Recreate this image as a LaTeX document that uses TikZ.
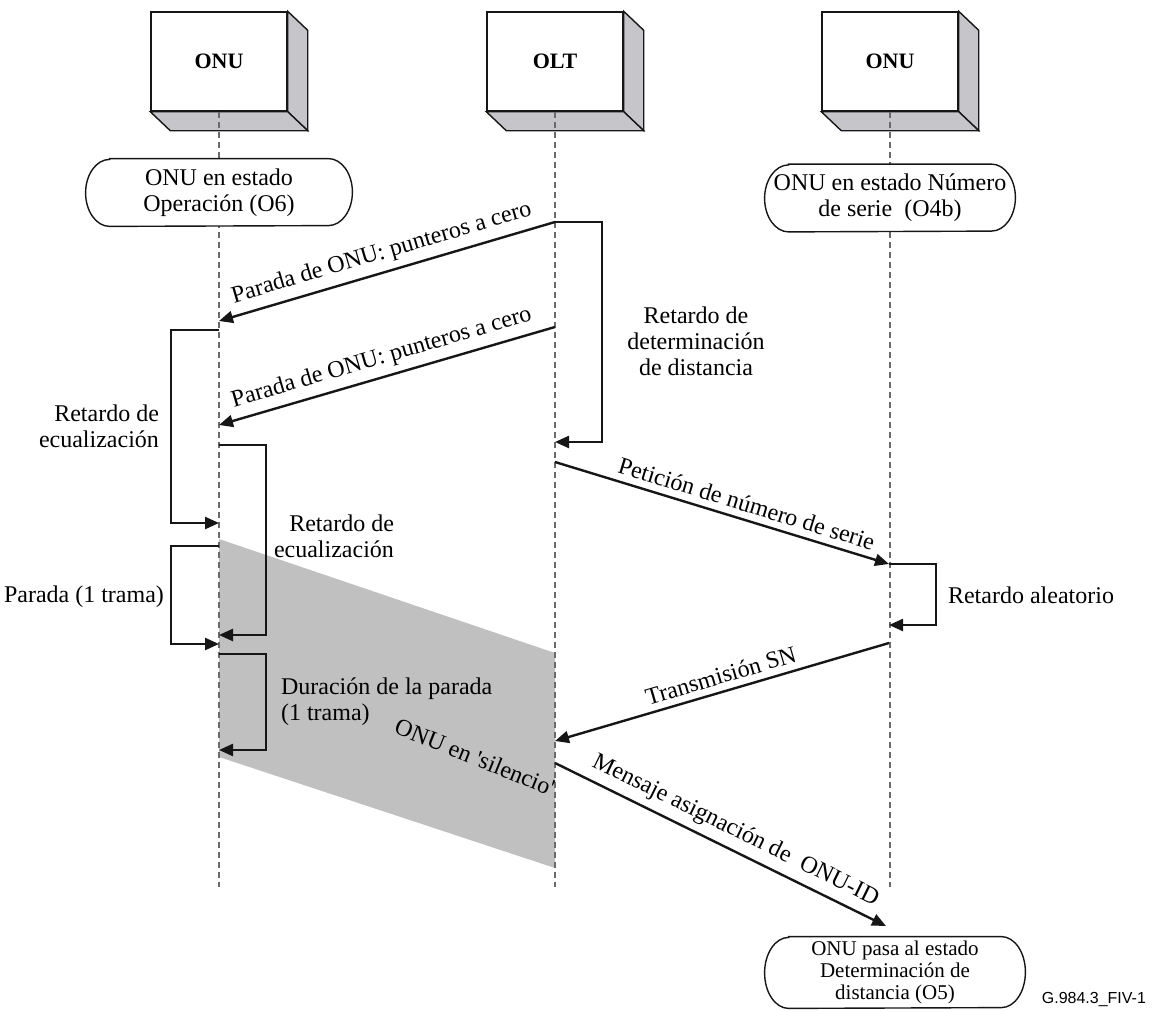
\documentclass[tikz,border=0pt]{standalone}
\usepackage{fontspec}
\setmainfont{Liberation Serif}
\newfontfamily\tagfont{Liberation Sans}
\usetikzlibrary{arrows.meta,positioning,calc}
\definecolor{seqInk}{HTML}{161616}
\definecolor{seqFace}{HTML}{C6C6CA}
\definecolor{seqQuiet}{HTML}{C0C0C0}
\definecolor{seqDash}{HTML}{6A6A6A}
\newcommand\pillframe[2]{%
  \draw[draw=seqInk,line width=0.7pt] ($(#1.north west)+(12pt,0)$) -- ($(#1.north east)+(-12pt,0)$)
    arc[start angle=90,end angle=-90,x radius=12pt,y radius=#2]
    -- ($(#1.south west)+(12pt,0)$)
    arc[start angle=-90,end angle=-270,x radius=12pt,y radius=#2] -- cycle;}

\begin{document}
\begin{tikzpicture}[x=0.5pt,y=-0.5pt,font=\fontsize{12}{13}\selectfont,>={Triangle[length=7pt,width=6pt]},
    msg/.style={->,draw=seqInk,line width=1.2pt},
    lbl/.style={sloped,above,pos=#1},lbl/.default=0.5,
    lifeline/.style={draw=seqDash,line width=0.6pt,dash pattern=on 3pt off 2pt},
    unit/.style={draw=seqInk,fill=white,line width=0.7pt,minimum width=68pt,minimum height=49.5pt,
                 font=\fontsize{11}{13}\selectfont\bfseries},
    state/.style={fill=white,rounded corners=12pt,align=center,inner sep=0pt}]
  \useasboundingbox (0,0) rectangle (1157,1012);

  \fill[seqQuiet] (219,539) -- (555,653) -- (555,868) -- (219,757) -- cycle;

  \foreach \nm/\xx/\txt in {onuL/219/ONU,olt/555/OLT,onuR/890/ONU}{
    \node[unit] (\nm) at (\xx,61.5) {\txt};
    \filldraw[fill=seqFace,draw=seqInk,line width=0.7pt] (\nm.north east) -- ++(20,19)
      -- ($(\nm.south east)+(20,19)$) -- (\nm.south east) -- cycle;
    \filldraw[fill=seqFace,draw=seqInk,line width=0.7pt] (\nm.south west) -- ++(20,19)
      -- ($(\nm.south east)+(20,19)$) -- (\nm.south east) -- cycle;
    \draw[lifeline] (\nm.south) -- (\xx,887);
  }

  \node[state,minimum width=133pt,minimum height=33.5pt] (stL) at (219,192.5) {ONU en estado\\Operación (O6)};
  \node[state,minimum width=125pt,minimum height=33.5pt] (stR) at (890,198) {ONU en estado Número\\de serie~ (O4b)};
  \node[state,minimum width=130pt,minimum height=35.5pt,font=\fontsize{10.5}{11}\selectfont] (stD) at (895,972.5)
    {ONU pasa al estado\\Determinación de\\distancia (O5)};
  \pillframe{stL}{16.75pt}
  \pillframe{stR}{16.75pt}
  \pillframe{stD}{17.75pt}

  \coordinate (m1s) at (555,222);  \coordinate (m1e) at (219,321);
  \coordinate (m2s) at (555,327);  \coordinate (m2e) at (219,425);
  \coordinate (rdE) at (555,442);
  \coordinate (eqLs) at (219,330); \coordinate (eqLe) at (219,523);
  \coordinate (eqRs) at (219,445); \coordinate (eqRe) at (219,635);
  \coordinate (stopS) at (219,546); \coordinate (stopE) at (219,644);
  \coordinate (durS) at (219,654); \coordinate (durE) at (219,750);
  \coordinate (snqS) at (555,462); \coordinate (snqE) at (889,564);
  \coordinate (rndE) at (889,625);
  \coordinate (sntS) at (889,643); \coordinate (sntE) at (555,741);
  \coordinate (idS) at (555,763);  \coordinate (idE) at (886,926);

  \draw[msg] (m1s) -- node[lbl] {Parada de ONU: punteros a cero} (m1e);
  \draw[msg] (m2s) -- node[lbl] {Parada de ONU: punteros a cero} (m2e);
  \draw[msg] (m1s) -- ++(47,0) |- (rdE);
  \draw[msg] (eqLs) -- ++(-48,0) |- (eqLe);
  \draw[msg] (eqRs) -- ++(47,0) |- (eqRe);
  \draw[msg] (stopS) -- ++(-48,0) |- (stopE);
  \draw[msg] (durS) -- ++(47,0) |- (durE);
  \draw[msg] (snqS) -- node[lbl=0.56] {Petición de número de serie} (snqE);
  \draw[msg] (snqE) -- ++(47,0) |- (rndE);
  \draw[msg] (sntS) -- node[lbl=0.49] {Transmisión SN} (sntE);
  \draw[msg] (idS) -- node[lbl=0.52] {Mensaje asignación de~ ONU-ID} (idE);

  \node[align=center] (rdTxt) at (696,341) {Retardo de\\determinación\\de distancia};
  \node[align=right,anchor=east] (eqLTxt) at (166,426) {Retardo de\\ecualización};
  \node[align=right,anchor=east] (eqRTxt) at (401,536) {Retardo de\\ecualización};
  \node[anchor=east] (stopTxt) at (171,597) {Parada (1 trama)};
  \node[align=left,anchor=west] (durTxt) at (274,702) {Duración de la parada\\(1 trama)};
  \node[anchor=west] (rndTxt) at (941,595) {Retardo aleatorio};
  \node[rotate=-22] (quietTxt) at (475,757) {ONU en \textquotesingle silencio\textquotesingle};
  \node[anchor=east,font=\tagfont\fontsize{8}{9}\selectfont] (figTag) at (1153,999) {G.984.3\_FIV-1};
\end{tikzpicture}
\end{document}
